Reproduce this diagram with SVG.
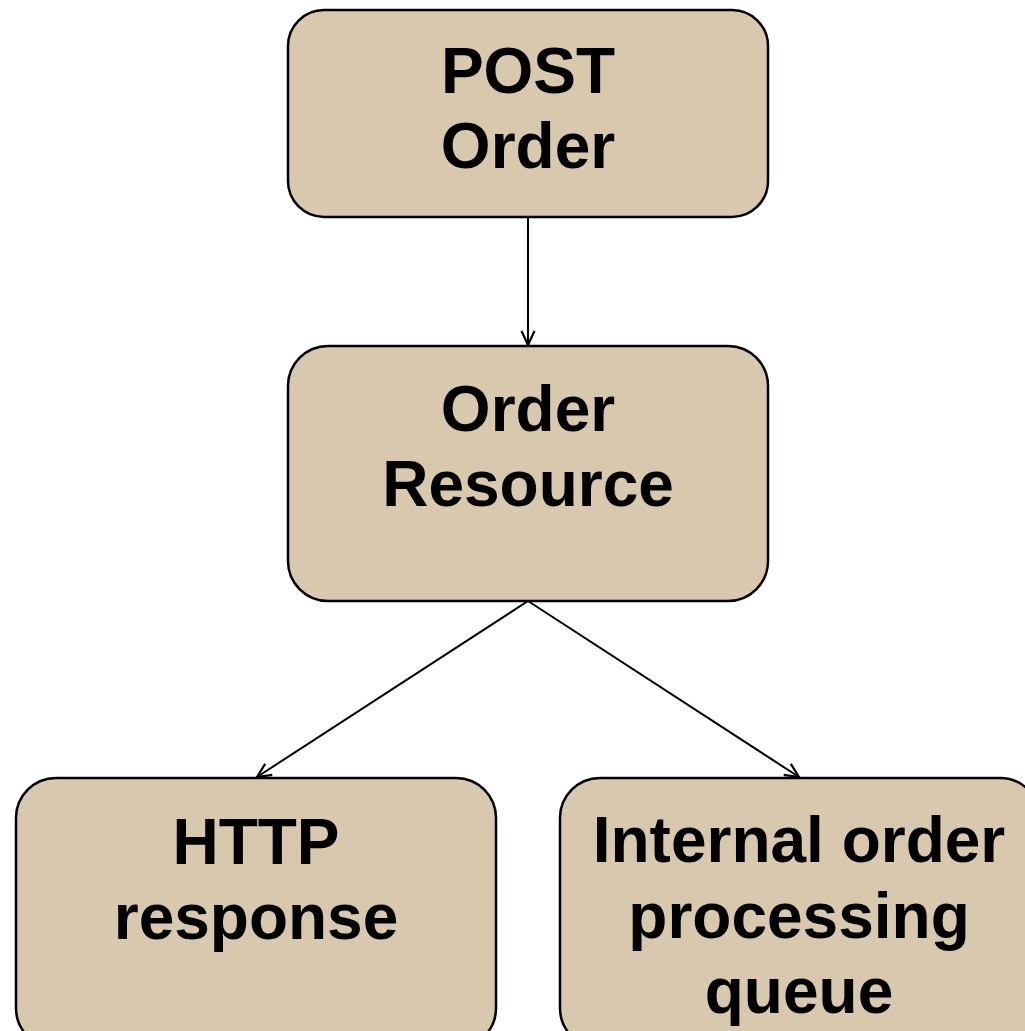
<svg xmlns="http://www.w3.org/2000/svg" width="1025" height="1031" viewBox="0 0 1025 1031">
<style>
.box{fill:#D8C9AE;stroke:#000;stroke-width:2.5}
.t{font-family:"Liberation Sans",Arial,sans-serif;font-weight:bold;font-size:64px;fill:#000;text-anchor:middle}
.c{fill:none;stroke:#000;stroke-width:2}
</style>
<defs>
<marker id="arr" viewBox="0 0 16 16" refX="15" refY="8" markerWidth="16" markerHeight="16" markerUnits="userSpaceOnUse" orient="auto">
<path d="M1,1.5 L15,8 L1,14.5" fill="none" stroke="#000" stroke-width="2.2"/>
</marker>
</defs>
<rect width="1025" height="1031" fill="#fff"/>
<g id="connectors">
<line class="c" x1="528" y1="217" x2="528" y2="345" marker-end="url(#arr)"/>
<line class="c" x1="528" y1="601" x2="257" y2="777" marker-end="url(#arr)"/>
<line class="c" x1="528" y1="601" x2="799" y2="777" marker-end="url(#arr)"/>
</g>
<g id="post-order">
<rect class="box" x="288" y="10" width="480" height="207" rx="36"/>
<text class="t" x="528" y="93">POST</text>
<text class="t" x="528" y="168">Order</text>
</g>
<g id="order-resource">
<rect class="box" x="288" y="346" width="480" height="255" rx="40"/>
<text class="t" x="528" y="431">Order</text>
<text class="t" x="528" y="506">Resource</text>
</g>
<g id="http-response">
<rect class="box" x="16" y="778" width="480" height="270" rx="40"/>
<text class="t" x="256" y="864">HTTP</text>
<text class="t" x="256" y="939">response</text>
</g>
<g id="queue">
<rect class="box" x="560" y="778" width="480" height="270" rx="40"/>
<text class="t" x="799" y="862">Internal order</text>
<text class="t" x="799" y="938">processing</text>
<text class="t" x="799" y="1013">queue</text>
</g>
</svg>
